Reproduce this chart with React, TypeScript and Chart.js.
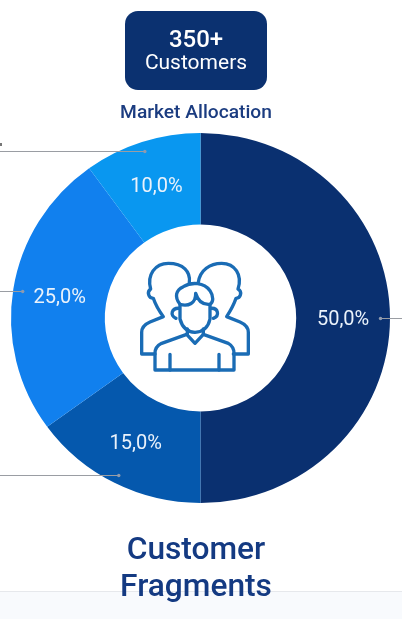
import React, { useEffect, useRef } from "react";
import { Chart, registerables } from "chart.js";

Chart.register(...registerables);

const categories = ["Segment A", "Segment B", "Segment C", "Segment D"];
const shares = [50, 15, 25, 10];
const sliceColors = ["#0a3070", "#0558ad", "#1180ee", "#0997f0"];
const calloutSides = [1, -1, -1, -1];
const badgeValue = "350+";
const badgeLabel = "Customers";
const subtitle = "Market Allocation";
const titleLines = ["Customer", "Fragments"];

const W = 402;
const H = 619;
const STRETCH = 189.5 / 185;

const formatShare = (v: number) => v.toFixed(1).replace(".", ",") + "%";

const stretchPlugin = {
  id: "stretch",
  beforeDatasetsDraw(chart: any) {
    const { ctx } = chart;
    const cx = chart.getDatasetMeta(0).data[0].x;
    ctx.save();
    ctx.translate(cx, 0);
    ctx.scale(STRETCH, 1);
    ctx.translate(-cx, 0);
  },
  afterDatasetsDraw(chart: any) {
    chart.ctx.restore();
  },
};

const labelPlugin = {
  id: "sliceLabels",
  afterDraw(chart: any) {
    const { ctx } = chart;
    const meta = chart.getDatasetMeta(0);
    ctx.save();
    meta.data.forEach((arc: any, i: number) => {
      const mid = (arc.startAngle + arc.endAngle) / 2;
      const rMid = (arc.innerRadius + arc.outerRadius) / 2;
      const rDot = arc.outerRadius * 0.95;
      const lx = arc.x + Math.cos(mid) * rMid * STRETCH;
      const ly = arc.y + Math.sin(mid) * rMid;
      const dx = arc.x + Math.cos(mid) * rDot * STRETCH;
      const dy = arc.y + Math.sin(mid) * rDot;
      ctx.strokeStyle = "#9a9da3";
      ctx.lineWidth = 1;
      ctx.beginPath();
      ctx.moveTo(dx, Math.round(dy) + 0.5);
      ctx.lineTo(calloutSides[i] > 0 ? W : 0, Math.round(dy) + 0.5);
      ctx.stroke();
      ctx.fillStyle = "#8f9aae";
      ctx.beginPath();
      ctx.arc(dx, Math.round(dy) + 0.5, 1.7, 0, Math.PI * 2);
      ctx.fill();
      ctx.fillStyle = "#eaf2fb";
      ctx.font = "20px Roboto";
      ctx.textAlign = "center";
      ctx.textBaseline = "middle";
      ctx.fillText(formatShare(shares[i]), lx, ly + 1.5);
    });
    ctx.restore();
  },
};

function PeopleIcon() {
  return (
    <svg
      viewBox="0 0 600 540"
      width={200}
      height={180}
      style={{ position: "absolute", left: 100, top: 225 }}
      fill="none"
      stroke="#1a6cb5"
      strokeWidth={10}
      strokeLinejoin="round"
      strokeLinecap="round"
    >
      <path d="M165 387 L125 387 L125 322 Q125 302 150 291 L190 275 C175 255 165 235 160 220 C145 220 140 200 152 192 C140 150 165 115 205 115 C250 115 272 140 268 172" />
      <path d="M295 172 C300 135 330 115 365 115 C405 115 428 150 414 192 C428 200 422 220 408 220 C403 235 393 255 380 275 L420 291 Q445 302 445 322 L445 387 L400 387" />
      <path d="M165 435 L402 435 L402 385 Q402 365 385 355 L310 328 L285 355 L260 328 L185 355 Q165 365 165 385 Z" />
      <path d="M210 388 L210 435 M357 388 L357 435" />
      <path d="M262 312 L262 328 M310 312 L310 328" />
      <path d="M240 238 C222 215 228 195 250 185 C275 170 312 172 330 197 C342 215 340 232 330 238 C310 240 295 232 287 205 C288 235 265 245 240 238 Z" />
      <path d="M240 238 L240 282 Q250 320 285 322 Q322 320 330 282 L330 238" />
      <path d="M238 250 C215 248 208 272 228 280 M332 250 C355 248 360 272 340 280" />
    </svg>
  );
}

const textBase: React.CSSProperties = {
  position: "absolute",
  left: 0,
  width: 392,
  textAlign: "center",
  fontFamily: "Roboto",
  whiteSpace: "nowrap",
};

export default function App() {
  const ref = useRef<HTMLCanvasElement>(null);

  useEffect(() => {
    const chart = new Chart(ref.current!, {
      type: "doughnut",
      data: {
        labels: categories,
        datasets: [
          {
            data: shares,
            backgroundColor: sliceColors,
            borderWidth: 0,
            clip: false,
          } as any,
        ],
      },
      options: {
        animation: false,
        responsive: false,
        cutout: "50.5%",
        layout: { padding: { top: 133, bottom: 116, left: 0, right: 1 } },
        plugins: { legend: { display: false }, tooltip: { enabled: false } },
      },
      plugins: [stretchPlugin, labelPlugin],
    });
    return () => chart.destroy();
  }, []);

  return (
    <div style={{ position: "absolute", left: 0, top: 0, width: W, height: H, overflow: "hidden", background: "#fff" }}>
      <div style={{ position: "absolute", left: 0, top: 591, width: W, height: 28, background: "#f8fafd", borderTop: "1px solid #e6e8ec", boxSizing: "border-box" }} />
      <canvas ref={ref} width={W} height={H} style={{ position: "absolute", left: 0, top: 0, display: "block" }} />
      <div style={{ position: "absolute", left: 0, top: 143, width: 2, height: 3, background: "#777" }} />
      <PeopleIcon />
      <div style={{ position: "absolute", left: 125, top: 11, width: 142, height: 79, borderRadius: 13, background: "#0b3170" }} />
      <div style={{ ...textBase, left: 125, width: 142, top: 25, fontSize: 24, lineHeight: "28px", fontWeight: 500, color: "#fff" }}>{badgeValue}</div>
      <div style={{ ...textBase, left: 125, width: 142, top: 50, fontSize: 21, lineHeight: "25px", color: "#fff" }}>{badgeLabel}</div>
      <div style={{ ...textBase, top: 99.5, fontSize: 19.2, lineHeight: "23px", fontWeight: 500, color: "#1b3c80" }}>{subtitle}</div>
      <div style={{ ...textBase, top: 530, fontSize: 31.7, lineHeight: "37px", fontWeight: 500, color: "#143a82" }}>{titleLines[0]}</div>
      <div style={{ ...textBase, top: 567, fontSize: 31.7, lineHeight: "37px", fontWeight: 500, color: "#143a82" }}>{titleLines[1]}</div>
    </div>
  );
}
